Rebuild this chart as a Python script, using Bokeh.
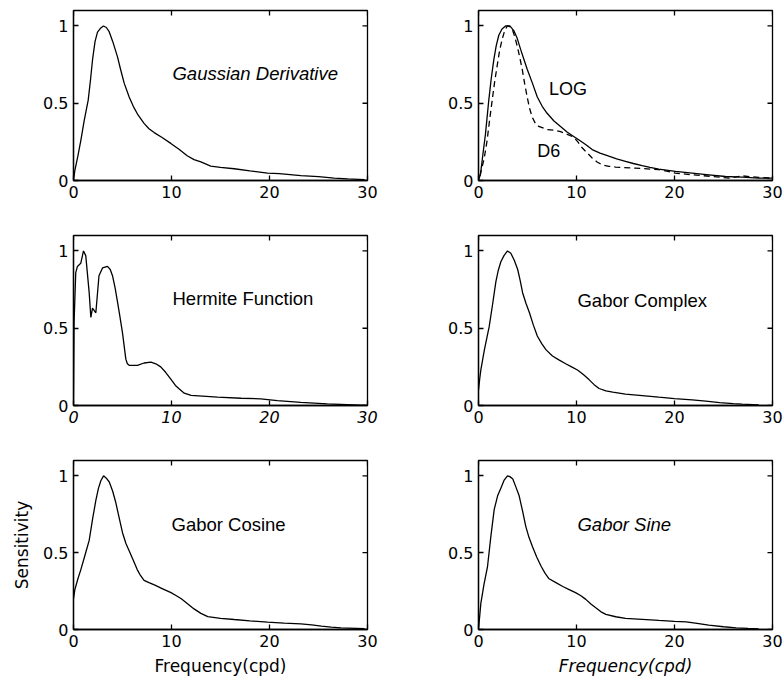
import math
from bokeh.plotting import figure
from bokeh.layouts import gridplot
from bokeh.models import Range1d, FixedTicker
from bokeh.core.properties import value
from bokeh.embed import file_html
from bokeh.resources import INLINE

# ---- spatial-frequency sensitivity curves (frequency in cpd) ----
gauss_x = [0, 0.14, 0.45, 0.75, 1.1, 1.5, 1.75, 1.94, 2.2, 2.45, 2.75, 3.06, 3.35, 3.64, 4.0,
           4.49, 4.8, 5.17, 5.68, 6.1, 6.53, 7.2, 7.7, 8.23, 9.0, 9.93, 10.8, 11.6, 12.3,
           13.0, 14.0, 15.0, 16.4, 18.0, 19.8, 21.0, 23.2, 25.0, 26.6, 28.0, 29.7]
gauss_y = [0, 0.065, 0.16, 0.26, 0.39, 0.52, 0.66, 0.78, 0.9, 0.96, 0.985, 1.0, 0.99, 0.963,
           0.9, 0.80, 0.72, 0.63, 0.54, 0.48, 0.43, 0.37, 0.335, 0.31, 0.28, 0.24, 0.2, 0.16,
           0.135, 0.12, 0.093, 0.085, 0.076, 0.062, 0.048, 0.045, 0.032, 0.025, 0.015, 0.01,
           0.006]

log_x = [0, 0.2, 0.45, 0.71, 1.05, 1.3, 1.56, 1.8, 2.07, 2.4, 2.76, 3.2, 3.6, 3.95, 4.29,
         4.63, 4.97, 5.5, 6.0, 6.5, 7.0, 7.7, 8.37, 9.0, 9.6, 10.3, 11.0, 11.6, 12.4, 13.3,
         14.1, 15.0, 15.8, 16.7, 17.5, 18.4, 20.1, 21.8, 23.5, 25.2, 26.9, 28.6, 30]
log_y = [0, 0.04, 0.17, 0.3, 0.52, 0.66, 0.78, 0.87, 0.94, 0.98, 1.0, 1.0, 0.97, 0.92, 0.85,
         0.785, 0.72, 0.63, 0.54, 0.48, 0.435, 0.385, 0.35, 0.315, 0.29, 0.26, 0.23, 0.2,
         0.177, 0.157, 0.14, 0.124, 0.11, 0.096, 0.085, 0.074, 0.059, 0.048, 0.037, 0.026,
         0.022, 0.015, 0.015]

d6_x = [0.14, 0.37, 0.6, 0.88, 1.15, 1.4, 1.65, 1.9, 2.15, 2.42, 2.65, 2.93, 3.2, 3.44, 3.7,
        3.95, 4.2, 4.46, 4.7, 4.97, 5.2, 5.48, 5.8, 6.15, 7.0, 7.7, 8.37, 9.0, 9.73, 10.2,
        10.6, 11.1, 11.6, 12.1, 12.65, 13.3, 14.0, 16.0, 18.4, 19.2, 20.1, 21.8, 23.9, 25.6,
        26.9, 28.6, 30]
d6_y = [0.03, 0.087, 0.15, 0.26, 0.4, 0.52, 0.64, 0.74, 0.84, 0.915, 0.965, 1.0, 0.995, 0.98,
        0.93, 0.87, 0.8, 0.72, 0.63, 0.54, 0.47, 0.41, 0.37, 0.35, 0.33, 0.325, 0.316, 0.3,
        0.28, 0.245, 0.21, 0.178, 0.146, 0.12, 0.10, 0.092, 0.087, 0.08, 0.07, 0.06, 0.048,
        0.037, 0.026, 0.015, 0.03, 0.02, 0.015]

herm_x = [0, 0.06, 0.23, 0.4, 0.74, 1.02, 1.25, 1.6, 1.77, 1.94, 2.28, 2.6, 2.96, 3.47, 3.75,
          3.98, 4.25, 4.49, 4.75, 5.0, 5.2, 5.34, 5.5, 5.68, 6.53, 7.2, 7.9, 8.4, 8.9, 9.4,
          9.93, 10.4, 10.8, 11.3, 12.0, 14.7, 17.1, 19.1, 20.8, 23.2, 25.9, 30]
herm_y = [0.0, 0.54, 0.86, 0.9, 0.92, 1.0, 0.97, 0.73, 0.57, 0.63, 0.60, 0.84, 0.89, 0.90,
          0.88, 0.84, 0.76, 0.67, 0.57, 0.47, 0.37, 0.30, 0.27, 0.26, 0.26, 0.275, 0.28, 0.27,
          0.25, 0.215, 0.17, 0.13, 0.107, 0.08, 0.065, 0.054, 0.047, 0.043, 0.032, 0.02, 0.01,
          0.0]

gcomplex_x = [0, 0.12, 0.24, 0.6, 1.09, 1.45, 1.77, 2.0, 2.28, 2.6, 2.96, 3.3, 3.65, 4.0,
              4.25, 4.5, 4.85, 5.2, 5.6, 6.0, 6.45, 6.9, 7.55, 8.2, 8.9, 9.5, 10.1, 10.7, 11.3,
              11.8, 12.3, 13.0, 13.7, 15.0, 16.7, 18.4, 20.0, 21.8, 23.2, 24.6, 26.0, 26.9,
              28.6]
gcomplex_y = [0.1, 0.17, 0.23, 0.36, 0.51, 0.66, 0.80, 0.87, 0.93, 0.97, 1.0, 0.985, 0.94,
              0.88, 0.81, 0.73, 0.66, 0.60, 0.52, 0.45, 0.40, 0.36, 0.32, 0.295, 0.27, 0.25,
              0.23, 0.2, 0.166, 0.135, 0.11, 0.095, 0.086, 0.073, 0.064, 0.054, 0.045, 0.037,
              0.028, 0.019, 0.012, 0.009, 0.004]

gcos_x = [0, 0.14, 0.45, 0.75, 1.2, 1.6, 1.95, 2.28, 2.55, 2.8, 3.07, 3.35, 3.65, 4.0, 4.3,
          4.65, 5.0, 5.35, 5.7, 6.1, 6.5, 6.85, 7.2, 7.7, 8.25, 9.1, 9.95, 10.5, 11.0, 11.7,
          12.3, 13.0, 13.7, 15.0, 16.4, 18.0, 19.8, 21.5, 23.2, 24.3, 25.3, 26.3, 27.3, 29.7]
gcos_y = [0.2, 0.26, 0.33, 0.39, 0.49, 0.58, 0.72, 0.84, 0.92, 0.97, 1.0, 0.985, 0.96, 0.9,
          0.83, 0.73, 0.63, 0.56, 0.51, 0.45, 0.39, 0.35, 0.32, 0.305, 0.29, 0.265, 0.24,
          0.22, 0.2, 0.165, 0.134, 0.105, 0.084, 0.073, 0.065, 0.056, 0.048, 0.042, 0.037,
          0.03, 0.022, 0.015, 0.011, 0.006]

gsin_x = [0, 0.24, 0.55, 0.92, 1.25, 1.6, 1.95, 2.28, 2.6, 2.96, 3.2, 3.5, 3.8, 4.15, 4.5,
          4.83, 5.15, 5.5, 5.95, 6.4, 6.8, 7.2, 7.9, 8.6, 9.25, 9.9, 10.45, 10.95, 11.5, 12.0,
          12.5, 13.0, 14.0, 15.0, 16.7, 18.4, 20.0, 21.2, 22.3, 23.5, 25.0, 26.3, 27.5, 28.6]
gsin_y = [0, 0.17, 0.29, 0.41, 0.6, 0.78, 0.87, 0.92, 0.97, 1.0, 0.995, 0.98, 0.93, 0.87,
          0.77, 0.67, 0.6, 0.54, 0.47, 0.41, 0.365, 0.33, 0.305, 0.28, 0.26, 0.24, 0.22,
          0.196, 0.165, 0.14, 0.115, 0.098, 0.083, 0.072, 0.066, 0.059, 0.053, 0.05, 0.04,
          0.028, 0.018, 0.011, 0.007, 0.004]

x_ticks = [0, 10, 20, 30]
y_ticks = [0, 0.5, 1]
y_tick_labels = {0: "0", 0.5: "0.5", 1: "1"}
X_MAX, Y_MAX = 30, 1.1

TICK_FONT = "DejaVu Sans"
TEXT_FONT = "Liberation Sans"
LW = 1.3
TICK_LEN = 5


def style_axis(ax, ticks, italic=False):
    ax.ticker = FixedTicker(ticks=ticks)
    ax.axis_line_color = "black"
    ax.axis_line_width = LW
    ax.major_tick_line_color = "black"
    ax.major_tick_line_width = LW
    ax.major_tick_in = TICK_LEN
    ax.major_tick_out = 0
    ax.minor_tick_line_color = None
    ax.major_label_text_font = TICK_FONT
    ax.major_label_text_font_size = "16px"
    ax.major_label_text_color = "black"
    ax.major_label_standoff = 5
    if italic:
        ax.major_label_text_font_style = "italic"


def panel(col, bottom_row=False, x_italic=False):
    left = 73 if col == 0 else 86
    right = 392 - 294 - left
    p = figure(frame_width=294, frame_height=170 if not bottom_row else 169,
               x_range=Range1d(0, X_MAX), y_range=Range1d(0, Y_MAX),
               output_backend="svg", toolbar_location=None,
               min_border_left=left, min_border_right=right,
               min_border_top=10, min_border_bottom=56 if bottom_row else 45,
               background_fill_color="white", border_fill_color="white")
    p.grid.visible = False
    p.outline_line_color = "black"
    p.outline_line_width = LW
    style_axis(p.xaxis[0], x_ticks, italic=x_italic)
    style_axis(p.yaxis[0], y_ticks)
    p.yaxis[0].major_label_overrides = y_tick_labels
    # mirrored inward ticks on the top and right edges of the box
    p.ray(x=x_ticks, y=[Y_MAX] * len(x_ticks), length=TICK_LEN, length_units="screen",
          angle=-math.pi / 2, line_color="black", line_width=LW)
    p.ray(x=[X_MAX] * len(y_ticks), y=y_ticks, length=TICK_LEN, length_units="screen",
          angle=math.pi, line_color="black", line_width=LW)
    return p


def label(p, x, y, txt, italic=False, size="18.5px"):
    p.text(x=[x], y=[y], text=[txt], text_font=value(TEXT_FONT),
           text_font_size=value(size), text_font_style="italic" if italic else "normal",
           text_baseline="middle", text_align="left", text_color="black")


# Row 1
p1 = panel(0)
p1.line(gauss_x, gauss_y, line_color="black", line_width=LW)
label(p1, 10.1, 0.69, "Gaussian Derivative", italic=True)

p2 = panel(1)
p2.line(log_x, log_y, line_color="black", line_width=LW)
p2.line(d6_x, d6_y, line_color="black", line_width=LW, line_dash="6 4")
label(p2, 7.2, 0.59, "LOG", size="18px")
label(p2, 6.0, 0.19, "D6", size="18px")

# Row 2
p3 = panel(0, x_italic=True)
p3.line(herm_x, herm_y, line_color="black", line_width=LW)
label(p3, 10.1, 0.69, "Hermite Function")

p4 = panel(1)
p4.line(gcomplex_x, gcomplex_y, line_color="black", line_width=LW)
label(p4, 10.1, 0.68, "Gabor Complex")

# Row 3
p5 = panel(0, bottom_row=True)
p5.line(gcos_x, gcos_y, line_color="black", line_width=LW)
label(p5, 10.0, 0.686, "Gabor Cosine")

p6 = panel(1, bottom_row=True)
p6.line(gsin_x, gsin_y, line_color="black", line_width=LW)
label(p6, 10.1, 0.685, "Gabor Sine", italic=True)

for p, it in ((p5, False), (p6, True)):
    ax = p.below[0]
    ax.axis_label = "Frequency(cpd)"
    ax.axis_label_text_font = TICK_FONT
    ax.axis_label_text_font_size = "17px"
    ax.axis_label_text_color = "black"
    ax.axis_label_text_font_style = "italic" if it else "normal"
    ax.axis_label_standoff = 6

ya = p5.left[0]
ya.axis_label = "Sensitivity"
ya.axis_label_text_font = TICK_FONT
ya.axis_label_text_font_size = "17px"
ya.axis_label_text_color = "black"
ya.axis_label_text_font_style = "normal"
ya.axis_label_standoff = 8

grid = gridplot([[p1, p2], [p3, p4], [p5, p6]], toolbar_location=None)

open("out.html", "w").write(file_html(grid, INLINE))
